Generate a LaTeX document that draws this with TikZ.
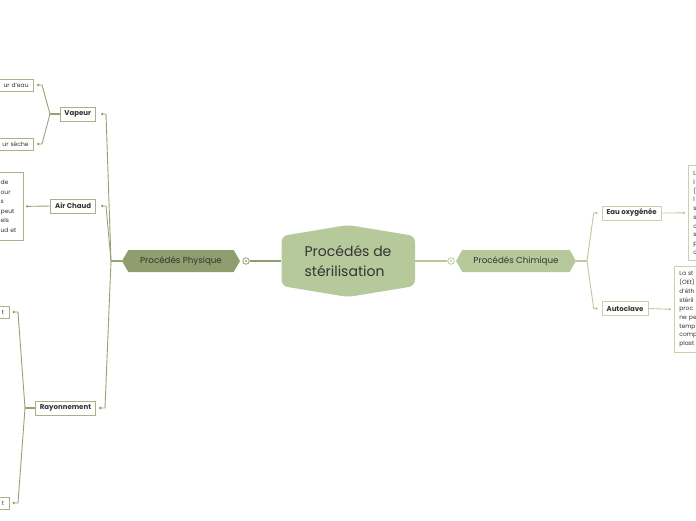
\documentclass[tikz,border=0pt]{standalone}
\usepackage{fontspec}
\setmainfont{Poppins}
\usetikzlibrary{shapes.symbols,arrows.meta,calc}
\definecolor{olivec}{HTML}{8F9E6E}
\definecolor{sagec}{HTML}{B6C99B}
\definecolor{llinec}{HTML}{93A474}
\definecolor{rlinec}{HTML}{B9CB9F}
\definecolor{lboxc}{HTML}{A4B38A}
\definecolor{rboxc}{HTML}{C3D4AD}
\definecolor{txtc}{HTML}{333333}
\tikzset{
  hexa/.style={signal, signal to=west and east, signal pointer angle=120, minimum height=22pt, inner xsep=6pt, inner ysep=0pt, font=\fontsize{8.7}{10}\selectfont, text=txtc},
  ring/.style={circle, fill=white, line width=0.8pt, minimum size=6.5pt, inner sep=0pt},
  lbox/.style={draw=lboxc, fill=white, line width=0.8pt, font=\bfseries\fontsize{7}{8}\selectfont, text=txtc, inner xsep=4.5pt, inner ysep=0pt, minimum height=14pt},
  rbox/.style={lbox, draw=rboxc},
  sbox/.style={draw=lboxc, fill=white, line width=0.8pt, font=\fontsize{6}{8}\selectfont, text=txtc, text width=50pt, align=right, minimum height=12pt, inner xsep=5pt, inner ysep=0pt},
  tbox/.style={draw=lboxc, fill=white, line width=0.8pt, font=\fontsize{6}{8.7}\selectfont, text=txtc, inner xsep=5pt, inner ysep=3pt, align=left},
  rtbox/.style={tbox, draw=rboxc},
  conn/.style={draw=llinec, line width=0.9pt, -{Circle[length=2.4pt]}, shorten >=4pt},
  rconn/.style={conn, draw=rlinec},
  trunk/.style={draw=llinec, line width=1.4pt},
  rtrunk/.style={draw=rlinec, line width=1.4pt}
}
\begin{document}
\begin{tikzpicture}[x=1pt,y=-1pt]
\useasboundingbox (0,0) rectangle (696,520);
\clip (0,0) rectangle (696,520);

% central topic
\fill[sagec, rounded corners=6pt] (281.5,236) -- (348,225) -- (415,236) -- (415,286) -- (348,297) -- (281.5,286) -- cycle;
\node[font=\fontsize{14}{20}\selectfont, text=txtc, align=left, minimum width=134pt, minimum height=72pt, inner sep=0pt] (center) at (348,261) {Procédés de\\stérilisation};

% main branches
\node[hexa, fill=olivec, minimum width=118pt] (phys) at (181,261) {Procédés Physique};
\node[hexa, fill=sagec, minimum width=120pt] (chim) at (516,261) {Procédés Chimique};
\node[ring, draw=olivec] (pc) at (246,261) {};
\node[ring, draw=sagec] (cc) at (451,261) {};
\fill[olivec] (pc) circle (1.1pt);
\fill[sagec] (cc) circle (1.1pt);
\draw[draw=olivec, line width=1.8pt] (center.west) -- (pc);
\draw[draw=sagec, line width=1.8pt] (center.east) -- (cc);

% left subtopics
\node[lbox, anchor=east] (vap) at (96,114) {Vapeur};
\node[lbox, anchor=east] (ach) at (96,206) {Air Chaud};
\node[lbox, anchor=east] (ray) at (96,408) {Rayonnement};
\coordinate (J) at (111,261);
\draw[trunk] (phys.west) -- (J);
\draw[conn, shorten >=5pt] (J) -- ([xshift=10pt]vap.east) -- (vap.east);
\draw[conn, shorten >=5pt] (J) -- ([xshift=10pt]ach.east) -- (ach.east);
\draw[conn, shorten >=3pt] (J) -- ([xshift=9pt]ray.east) -- (ray.east);

% vapeur children
\node[sbox, anchor=east] (veau) at (34,85) {ur d'eau};
\node[sbox, anchor=east] (vsec) at (34,144) {ur sèche};
\coordinate (vf) at (50,114);
\draw[trunk] (vap.west) -- (vf);
\draw[conn, shorten >=3pt] (vf) -- ([xshift=8pt]veau.east) -- (veau.east);
\draw[conn, shorten >=3pt] (vf) -- ([xshift=8pt]vsec.east) -- (vsec.east);

% air chaud child
\node[tbox, anchor=north east, text width=21pt, inner xsep=2pt, minimum height=68pt, font=\fontsize{6}{9.5}\selectfont] (acx) at (24,172) {de\\our\\s\\peut\\els\\ud et};
\draw[conn, shorten >=2pt] (ach.west) -- (acx.east);

% rayonnement children
\node[sbox, anchor=east, text width=30pt] (r1) at (9.5,312) {t};
\node[sbox, anchor=east, text width=30pt] (r2) at (9.5,503) {t};
\coordinate (rf) at (25,408);
\draw[trunk] (ray.west) -- (rf);
\draw[conn, shorten >=3pt] (rf) -- ([xshift=8.5pt]r1.east) -- (r1.east);
\draw[conn, shorten >=3pt] (rf) -- ([xshift=8.5pt]r2.east) -- (r2.east);

% right subtopics
\coordinate (K) at (587,261);
\draw[rtrunk] (chim.east) -- (K);
\node[rbox, anchor=west] (eau) at (601.7,213) {Eau oxygénée};
\node[rbox, anchor=west] (auto) at (601.7,308.5) {Autoclave};
\draw[rconn] (K) -- ([xshift=-8pt]eau.west) -- (eau.west);
\draw[rconn] (K) -- ([xshift=-8pt]auto.west) -- (auto.west);

% right children
\node[rtbox, anchor=north west, text width=40pt, minimum height=95pt] (eaux) at (688,165) {L\\l\\(\\l\\s\\s\\c\\s\\p\\c};
\node[rtbox, anchor=north west, text width=40pt, minimum height=86pt] (autox) at (674,266) {La st\\(OEt)\\d'éth\\stéril\\proc\\ne pe\\temp\\comp\\plast};
\draw[rconn, shorten >=3pt] (eau.east) -- (eaux.west);
\draw[rconn, shorten >=3pt] (auto.east) -- (autox.west);
\end{tikzpicture}
\end{document}
